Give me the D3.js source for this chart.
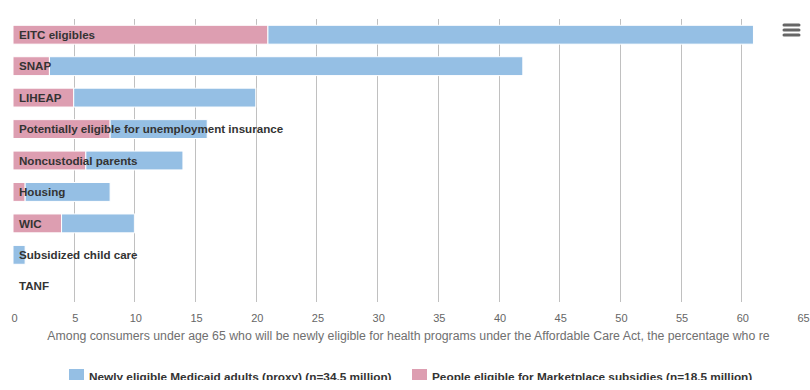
<!DOCTYPE html>
<html>
<head>
<meta charset="utf-8">
<script src="https://cdn.jsdelivr.net/npm/d3@7"></script>
<style>
  body { margin: 0; background: #fff; overflow: hidden; }
  text { font-family: "Liberation Sans", Arial, sans-serif; }
</style>
</head>
<body>
<svg id="chart"></svg>
<script>
// data
const categories = ["EITC eligibles", "SNAP", "LIHEAP", "Potentially eligible for unemployment insurance",
  "Noncustodial parents", "Housing", "WIC", "Subsidized child care", "TANF"];
const marketplace = [21, 3, 5, 8, 6, 1, 4, 0, 0];   // pink, drawn first
const medicaid = [40, 39, 15, 8, 8, 7, 6, 1, 0];    // blue, stacked after
const xTicks = [0, 5, 10, 15, 20, 25, 30, 35, 40, 45, 50, 55, 60, 65];
const seriesNames = ["Newly eligible Medicaid adults (proxy) (n=34.5 million)",
  "People eligible for Marketplace subsidies (n=18.5 million)"];
const axisTitle = "Among consumers under age 65 who will be newly eligible for health programs under the Affordable Care Act, the percentage who re";

const W = 810, H = 380;
const blue = "#95bfe4", pink = "#dd9eb1";

const svg = d3.select("#chart").attr("width", W).attr("height", H);

const x = d3.scaleLinear().domain([0, 65]).range([13, 802]);
const y = d3.scaleBand().domain(categories).range([19, 302]).paddingInner(0.4).paddingOuter(0.2);

// gridlines (none at 0 or 65 in the reference)
svg.append("g")
  .selectAll("line")
  .data(xTicks.filter(d => d > 0 && d < 65))
  .enter().append("line")
  .attr("x1", d => Math.round(x(d)) + 0.5)
  .attr("x2", d => Math.round(x(d)) + 0.5)
  .attr("y1", 19).attr("y2", 302)
  .attr("stroke", "#c0c0c0").attr("stroke-width", 1);

// stacked bars
const rows = categories.map((c, i) => ({ cat: c, pink: marketplace[i], blue: medicaid[i] }));
const bars = svg.append("g");
rows.forEach(r => {
  if (r.pink > 0) {
    bars.append("rect")
      .attr("x", x(0)).attr("y", y(r.cat))
      .attr("width", x(r.pink) - x(0)).attr("height", y.bandwidth())
      .attr("fill", pink).attr("stroke", "#fff").attr("stroke-width", 1);
  }
  if (r.blue > 0) {
    bars.append("rect")
      .attr("x", x(r.pink)).attr("y", y(r.cat))
      .attr("width", x(r.pink + r.blue) - x(r.pink)).attr("height", y.bandwidth())
      .attr("fill", blue).attr("stroke", "#fff").attr("stroke-width", 1);
  }
});

// category labels inside the plot
svg.append("g")
  .selectAll("text")
  .data(categories)
  .enter().append("text")
  .attr("x", 19)
  .attr("y", d => y(d) + y.bandwidth() / 2)
  .attr("dy", "0.36em")
  .attr("font-size", 11.6)
  .attr("font-weight", "bold")
  .attr("fill", "#333")
  .text(d => d);

// x axis labels
svg.append("g")
  .selectAll("text")
  .data(xTicks)
  .enter().append("text")
  .attr("x", d => x(d) + 1.5)
  .attr("y", 322)
  .attr("text-anchor", "middle")
  .attr("font-size", 11)
  .attr("fill", "#666")
  .text(d => d);

svg.append("text")
  .attr("x", 408.5)
  .attr("y", 340)
  .attr("text-anchor", "middle")
  .attr("font-size", 12.3)
  .attr("fill", "#707070")
  .text(axisTitle);

// legend
const legend = svg.append("g");
const legendItems = [
  { name: seriesNames[0], color: blue, x: 69 },
  { name: seriesNames[1], color: pink, x: 412 }
];
legendItems.forEach(it => {
  legend.append("rect")
    .attr("x", it.x).attr("y", 369).attr("width", 15).attr("height", 12)
    .attr("fill", it.color);
  legend.append("text")
    .attr("x", it.x + 20).attr("y", 381)
    .attr("font-size", 11.8).attr("font-weight", "bold").attr("fill", "#333")
    .text(it.name);
});

// menu button
svg.append("g")
  .selectAll("line")
  .data([25, 30, 35])
  .enter().append("line")
  .attr("x1", 784).attr("x2", 799)
  .attr("y1", d => d).attr("y2", d => d)
  .attr("stroke", "#666").attr("stroke-width", 3).attr("stroke-linecap", "round");
</script>
</body>
</html>
